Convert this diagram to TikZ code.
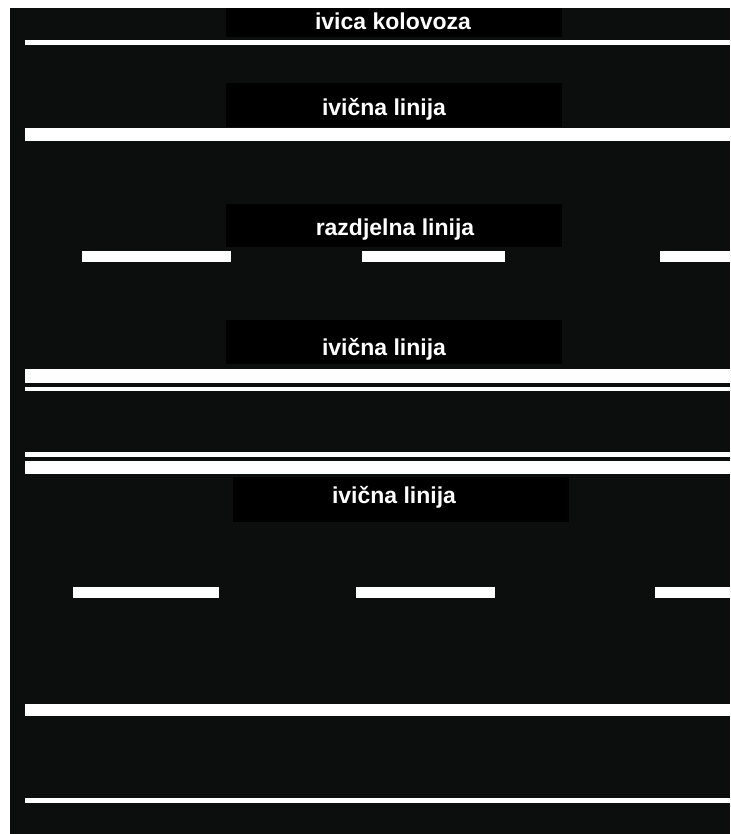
\documentclass[tikz,border=0pt]{standalone}
\usepackage{fontspec}
\setmainfont{Liberation Sans}
\definecolor{road}{HTML}{0C0D0D}
\begin{document}
\begin{tikzpicture}[x=1pt,y=-1pt,
  labelbox/.style={fill=black, draw=none, inner sep=0pt, minimum width=336pt},
  labeltext/.style={text=white, inner sep=0pt, font=\fontsize{23}{27}\selectfont\bfseries},
  paint/.style={fill=white}]
\useasboundingbox (0,0) rectangle (730,834);
\fill[white] (0,0) rectangle (730,834);
\fill[road] (10,8) rectangle (730,834);
% label boxes
\node[labelbox, minimum height=29pt] (b1) at (394,22.5) {};
\node[labelbox, minimum height=44pt] (b2) at (394,105) {};
\node[labelbox, minimum height=43pt] (b3) at (394,225.5) {};
\node[labelbox, minimum height=44pt] (b4) at (394,342) {};
\node[labelbox, minimum height=45pt] (b5) at (401,499.5) {};
% label texts
\node[labeltext, anchor=base] (t1) at (393,30) {ivica kolovoza};
\node[labeltext, anchor=base] (t2) at (384,116) {ivična linija};
\node[labeltext, anchor=base] (t3) at (395,236) {razdjelna linija};
\node[labeltext, anchor=base] (t4) at (384,355) {ivična linija};
\node[labeltext, anchor=base] (t5) at (394,503) {ivična linija};
% road markings
\fill[paint] (25,40) rectangle (730,45);
\fill[paint] (25,128) rectangle (730,141);
\fill[paint] (82,251) rectangle (231,262);
\fill[paint] (362,251) rectangle (505,262);
\fill[paint] (660,251) rectangle (730,262);
\fill[paint] (25,369) rectangle (730,383);
\fill[paint] (25,387) rectangle (730,391);
\fill[paint] (25,452) rectangle (730,457);
\fill[paint] (25,461) rectangle (730,474);
\fill[paint] (73,587) rectangle (219,598);
\fill[paint] (356,587) rectangle (495,598);
\fill[paint] (655,587) rectangle (730,598);
\fill[paint] (25,704) rectangle (730,716);
\fill[paint] (25,798) rectangle (730,803);
\end{tikzpicture}
\end{document}
